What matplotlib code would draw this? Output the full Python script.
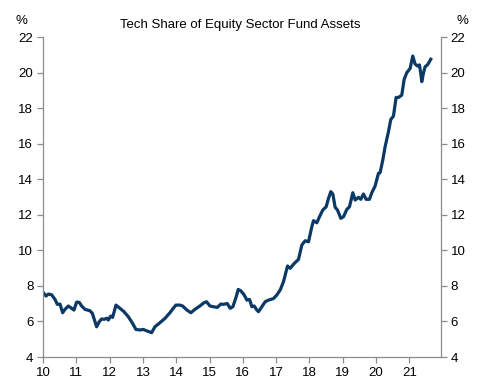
"""Tech share of equity sector fund assets, 2010-2021."""
import matplotlib
matplotlib.use("Agg")
import matplotlib.pyplot as plt

plt.rcParams['font.family'] = ['Liberation Sans', 'DejaVu Sans']

# year (decimal, 10 = 2010) and tech share in %
years = [10.01, 10.09, 10.16, 10.26, 10.36, 10.43, 10.51, 10.59, 10.66, 10.76,
         10.86, 10.93, 11.01, 11.09, 11.16, 11.26, 11.41, 11.48, 11.56, 11.61,
         11.69, 11.76, 11.84, 11.91, 11.96, 12.03, 12.09, 12.19, 12.31, 12.43,
         12.56, 12.69, 12.79, 12.91, 13.01, 13.13, 13.26, 13.36, 13.51, 13.66,
         13.81, 13.91, 13.99, 14.11, 14.19, 14.32, 14.44, 14.56, 14.71, 14.83,
         14.91, 15.01, 15.11, 15.23, 15.34, 15.41, 15.53, 15.62, 15.70, 15.80,
         15.86, 15.94, 16.04, 16.12, 16.20, 16.27, 16.34, 16.42, 16.47, 16.57,
         16.67, 16.77, 16.92, 17.02, 17.12, 17.22, 17.34, 17.42, 17.54, 17.67,
         17.77, 17.87, 17.97, 18.07, 18.12, 18.22, 18.30, 18.40, 18.50, 18.57,
         18.64, 18.70, 18.77, 18.84, 18.94, 19.02, 19.12, 19.20, 19.30, 19.37,
         19.47, 19.54, 19.62, 19.70, 19.80, 19.87, 19.97, 20.07, 20.12, 20.20,
         20.27, 20.37, 20.44, 20.52, 20.60, 20.67, 20.77, 20.84, 20.92, 21.02,
         21.10, 21.17, 21.24, 21.30, 21.34, 21.37, 21.42, 21.47, 21.54, 21.60,
         21.64]
share = [7.62, 7.43, 7.54, 7.50, 7.24, 6.96, 6.98, 6.49, 6.68, 6.87,
         6.74, 6.64, 7.09, 7.07, 6.87, 6.68, 6.60, 6.46, 5.99, 5.70,
         5.99, 6.14, 6.12, 6.18, 6.08, 6.30, 6.23, 6.92, 6.74, 6.55,
         6.27, 5.89, 5.55, 5.52, 5.55, 5.46, 5.37, 5.70, 5.93, 6.17,
         6.49, 6.74, 6.92, 6.92, 6.87, 6.64, 6.49, 6.68, 6.87, 7.05,
         7.11, 6.87, 6.83, 6.79, 6.98, 6.96, 7.01, 6.74, 6.83, 7.39,
         7.80, 7.72, 7.49, 7.20, 7.24, 6.83, 6.87, 6.64, 6.55, 6.83,
         7.11, 7.20, 7.29, 7.49, 7.77, 8.24, 9.12, 8.99, 9.26, 9.49,
         10.30, 10.54, 10.48, 11.33, 11.67, 11.55, 11.89, 12.27, 12.45, 12.92,
         13.30, 13.17, 12.42, 12.27, 11.80, 11.89, 12.30, 12.45, 13.24, 12.83,
         12.98, 12.87, 13.17, 12.87, 12.87, 13.24, 13.62, 14.33, 14.37, 15.08,
         15.83, 16.67, 17.36, 17.55, 18.60, 18.60, 18.73, 19.61, 19.99, 20.23,
         20.93, 20.48, 20.37, 20.43, 19.96, 19.49, 19.96, 20.33, 20.43, 20.61,
         20.75]

x_ticks = list(range(10, 22))
y_ticks = list(range(4, 23, 2))

fig = plt.figure(figsize=(4.81, 3.90), dpi=100)
ax = fig.add_axes([0.0894, 0.0846, 0.8276, 0.8205])

ax.plot(years, share, color='#0b3966', linewidth=2.3, solid_joinstyle='round')

ax.set_xlim(10, 21.95)
ax.set_ylim(4, 22)
ax.set_xticks(x_ticks)
ax.set_xticklabels([str(t) for t in x_ticks])
ax.set_yticks(y_ticks)

ax.spines['top'].set_visible(False)
for s in ('left', 'right', 'bottom'):
    ax.spines[s].set_color('#8c8c8c')
    ax.spines[s].set_linewidth(0.9)

ax.tick_params(axis='both', direction='out', length=4, width=0.9,
               color='#8c8c8c', labelsize=9.5, labelcolor='black', pad=3)
ax.tick_params(axis='y', left=True, right=True, labelleft=True, labelright=True)

fig.text(0.5, 0.937, 'Tech Share of Equity Sector Fund Assets',
         ha='center', va='center', fontsize=9.5)
fig.text(0.044, 0.945, '%', ha='center', va='center', fontsize=9.5)
fig.text(0.962, 0.945, '%', ha='center', va='center', fontsize=9.5)

fig.savefig("out.png", dpi=100)
plt.close()
